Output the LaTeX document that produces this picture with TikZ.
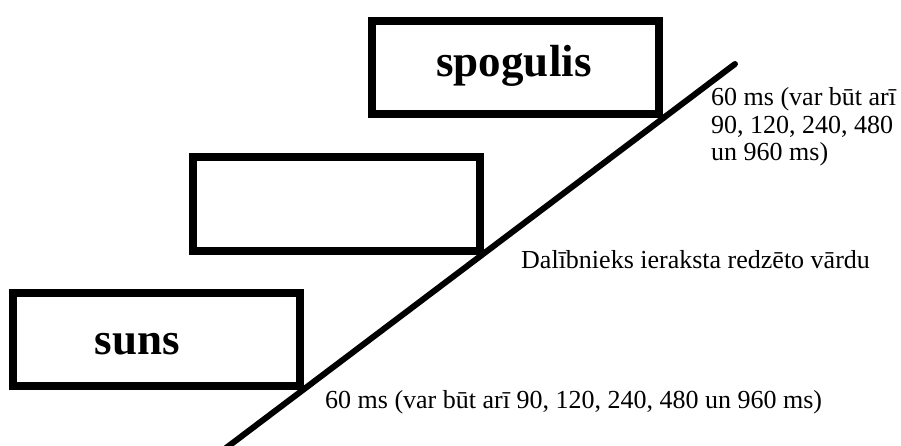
\documentclass[tikz,border=0pt]{standalone}
\usepackage{fontspec}
\setmainfont{Liberation Serif}
\begin{document}
\begin{tikzpicture}[x=1pt,y=-1pt,
  frame/.style={draw=black,line width=8pt,minimum width=287pt,minimum height=93pt,inner sep=0pt},
  word/.style={font=\bfseries\fontsize{45}{48}\selectfont,inner sep=0pt,anchor=base},
  note/.style={font=\fontsize{26}{27.5}\selectfont,inner sep=0pt,anchor=base west,align=left},
  timeline/.style={line width=6pt,line cap=round}]
  \useasboundingbox[fill=white] (0,0) rectangle (901,446);

  % stimulus screens, stepping down to the left
  \node[frame] (top) at (515,67.5) {};
  \node[frame] (mid) at (336,204) {};
  \node[frame] (low) at (156.5,339.5) {};

  % words shown on the screens
  \node[word] (w1) at (514,77) {spogulis};
  \node[word] (w3) at (137.5,354) {suns};

  % time axis running along the corners of the screens
  \coordinate (tend) at (735,64);
  \coordinate (tstart) at (226,448);
  \draw[timeline] (tstart) -- (tend);

  % annotations (a multi-line note sits on the baseline of its last line)
  \node[note] (n1) at (711,161) {60 ms (var būt arī\\90, 120, 240, 480\\un 960 ms)};
  \node[note] (n2) at (521,268) {Dalībnieks ieraksta redzēto vārdu};
  \node[note] (n3) at (325,408) {60 ms (var būt arī 90, 120, 240, 480 un 960 ms)};
\end{tikzpicture}
\end{document}
